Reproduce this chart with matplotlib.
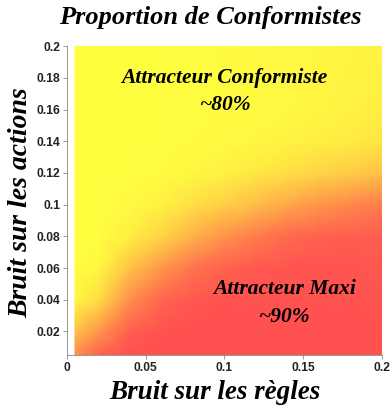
import numpy as np
import matplotlib
matplotlib.use("Agg")
import matplotlib.pyplot as plt
from matplotlib.colors import LinearSegmentedColormap

# grid (1 = conformist / yellow, 0 = maxi / red)
bruit_regles = [0.005, 0.02, 0.04, 0.06, 0.08, 0.10, 0.12, 0.14, 0.16, 0.18, 0.20]
bruit_actions = [0.005, 0.02, 0.04, 0.06, 0.08, 0.10, 0.12, 0.14, 0.16, 0.18, 0.20]
proportion = [
    [0.35, 0.10, 0.00, 0.00, 0.00, 0.00, 0.00, 0.00, 0.00, 0.00, 0.02],
    [0.65, 0.40, 0.08, 0.02, 0.00, 0.00, 0.00, 0.00, 0.00, 0.00, 0.02],
    [0.95, 0.80, 0.35, 0.12, 0.04, 0.02, 0.02, 0.02, 0.02, 0.02, 0.03],
    [1.00, 0.95, 0.65, 0.40, 0.20, 0.10, 0.05, 0.03, 0.03, 0.03, 0.05],
    [1.00, 1.00, 0.90, 0.75, 0.55, 0.38, 0.25, 0.15, 0.10, 0.08, 0.08],
    [1.00, 1.00, 0.97, 0.92, 0.82, 0.72, 0.62, 0.50, 0.40, 0.32, 0.25],
    [1.00, 1.00, 1.00, 0.98, 0.95, 0.92, 0.87, 0.82, 0.76, 0.70, 0.65],
    [1.00, 1.00, 1.00, 1.00, 0.98, 0.97, 0.95, 0.93, 0.90, 0.88, 0.85],
    [1.00, 1.00, 1.00, 1.00, 0.99, 0.98, 0.97, 0.96, 0.94, 0.92, 0.90],
    [1.00, 1.00, 1.00, 1.00, 0.99, 0.98, 0.97, 0.96, 0.95, 0.93, 0.92],
    [1.00, 1.00, 1.00, 1.00, 0.99, 0.98, 0.97, 0.96, 0.95, 0.94, 0.93],
]
x_ticks = [0, 0.05, 0.1, 0.15, 0.2]
x_ticklabels = ["0", "0.05", "0.1", "0.15", "0.2"]
y_ticks = [0.02, 0.04, 0.06, 0.08, 0.1, 0.12, 0.14, 0.16, 0.18, 0.2]
y_ticklabels = ["0.02", "0.04", "0.06", "0.08", "0.1", "0.12", "0.14", "0.16", "0.18", "0.2"]

cmap = LinearSegmentedColormap.from_list("rouge_jaune", ["#ff5050", "#ffa84a", "#ffff40"])
serif = "Liberation Serif"

fig = plt.figure(figsize=(3.9, 4.05), dpi=100)
ax = fig.add_axes([0.172, 0.123, 0.807, 0.763])

X, Y = np.meshgrid(bruit_regles, bruit_actions)
ax.pcolormesh(X, Y, np.array(proportion), cmap=cmap, vmin=0, vmax=1, shading="gouraud")

ax.set_xlim(0, 0.2)
ax.set_ylim(0.005, 0.2)
ax.set_xticks(x_ticks)
ax.set_xticklabels(x_ticklabels)
ax.set_yticks(y_ticks)
ax.set_yticklabels(y_ticklabels)
for lab in ax.get_xticklabels() + ax.get_yticklabels():
    lab.set_fontfamily("Liberation Sans")
    lab.set_fontsize(8.7)
    lab.set_fontweight("bold")
    lab.set_color("#222222")
ax.tick_params(length=3, width=0.6, color="#888888", pad=2)
for side in ["top", "right"]:
    ax.spines[side].set_visible(False)
for side in ["left", "bottom"]:
    ax.spines[side].set_color("#888888")
    ax.spines[side].set_linewidth(0.6)

fig.text(0.538, 0.956, "Proportion de Conformistes", ha="center", va="center",
         family=serif, style="italic", weight="bold", fontsize=19)
fig.text(0.052, 0.5, "Bruit sur les actions", ha="center", va="center", rotation=90,
         family=serif, style="italic", weight="bold", fontsize=20)
fig.text(0.55, 0.032, "Bruit sur les règles", ha="center", va="center",
         family=serif, style="italic", weight="bold", fontsize=19.5)

ann = dict(ha="center", va="center", family=serif, style="italic", weight="bold", fontsize=15.5)
ax.text(0.1, 0.18, "Attracteur Conformiste", **ann)
ax.text(0.1, 0.163, "~80%", **ann)
ax.text(0.138, 0.047, "Attracteur Maxi", **ann)
ax.text(0.138, 0.029, "~90%", **ann)

fig.savefig("out.png", dpi=100)
